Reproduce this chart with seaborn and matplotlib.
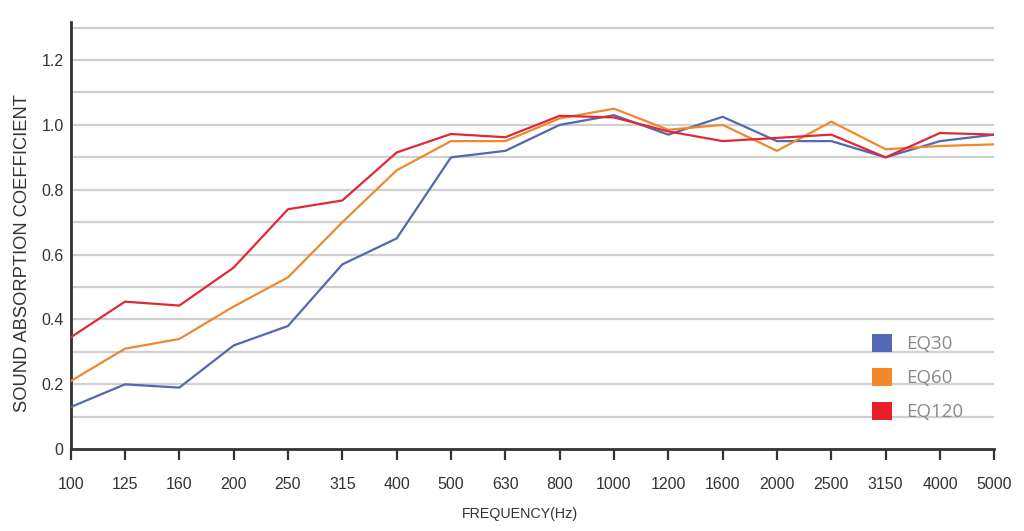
import numpy as np
import pandas as pd
import matplotlib
matplotlib.use("Agg")
import matplotlib.pyplot as plt
from matplotlib.patches import Patch
import seaborn as sns

# ========== Data ==========
freqs = ["100", "125", "160", "200", "250", "315", "400", "500", "630",
         "800", "1000", "1200", "1600", "2000", "2500", "3150", "4000", "5000"]
eq30 = [0.13, 0.20, 0.19, 0.32, 0.38, 0.57, 0.65, 0.90, 0.92,
        1.00, 1.03, 0.97, 1.025, 0.95, 0.95, 0.90, 0.95, 0.97]
eq60 = [0.21, 0.31, 0.34, 0.44, 0.53, 0.70, 0.86, 0.95, 0.95,
        1.02, 1.05, 0.985, 1.00, 0.92, 1.01, 0.925, 0.935, 0.94]
eq120 = [0.345, 0.455, 0.443, 0.56, 0.74, 0.767, 0.915, 0.972, 0.962,
         1.028, 1.023, 0.98, 0.95, 0.96, 0.97, 0.90, 0.975, 0.97]
series_names = ["EQ30", "EQ60", "EQ120"]
line_colors = ["#5567B0", "#F0892B", "#E0283A"]
legend_colors = ["#5468B4", "#F28A2A", "#E8202A"]

rows = []
for name, vals in zip(series_names, [eq30, eq60, eq120]):
    for i, v in enumerate(vals):
        rows.append({"pos": i, "value": v, "series": name})
df = pd.DataFrame(rows)

# ========== Plot ==========
sns.set_style("white")
plt.rcParams["font.family"] = ["Liberation Sans", "DejaVu Sans"]

fig = plt.figure(figsize=(10.24, 5.31), dpi=100)
ax = fig.add_axes([0.069, 0.154, 0.902, 0.805])

for yv in np.arange(0.1, 1.31, 0.1):
    ax.axhline(yv, color="#d0d0d0", linewidth=1.6, zorder=0)

sns.lineplot(data=df, x="pos", y="value", hue="series", hue_order=series_names,
             palette=line_colors, linewidth=1.6, legend=False, ax=ax, zorder=3)

ax.set_xlim(0, len(freqs) - 1)
ax.set_ylim(0, 1.318)
ax.set_xticks(range(len(freqs)))
ax.set_xticklabels(freqs, fontsize=11.5, color="#333333")
ax.set_yticks([0, 0.2, 0.4, 0.6, 0.8, 1.0, 1.2])
ax.set_yticklabels(["0", "0.2", "0.4", "0.6", "0.8", "1.0", "1.2"],
                   fontsize=11.5, color="#333333")
ax.tick_params(axis="x", length=8, width=1.6, color="#333333", pad=12,
               direction="out", bottom=True)
ax.tick_params(axis="y", length=0, pad=5, left=False)

for side in ["top", "right"]:
    ax.spines[side].set_visible(False)
for side in ["left", "bottom"]:
    ax.spines[side].set_color("#333333")
    ax.spines[side].set_linewidth(2)

ax.set_xlabel("FREQUENCY(Hz)", fontsize=10.3, color="#333333")
ax.set_ylabel("SOUND ABSORPTION COEFFICIENT", fontsize=13.2, color="#333333")
ax.xaxis.set_label_coords(0.487, -0.135)
ax.yaxis.set_label_coords(-0.043, 0.459)

handles = [Patch(facecolor=c, edgecolor="none") for c in legend_colors]
leg = ax.legend(handles, series_names, loc="upper left", bbox_to_anchor=(0.849, 0.31),
                frameon=False, handlelength=1.1, handleheight=1.1,
                labelspacing=0.78, handletextpad=0.75,
                prop={"family": "Open Sans", "size": 13.5})
for t in leg.get_texts():
    t.set_color("#8a8a8a")

fig.savefig("out.png", dpi=100)
